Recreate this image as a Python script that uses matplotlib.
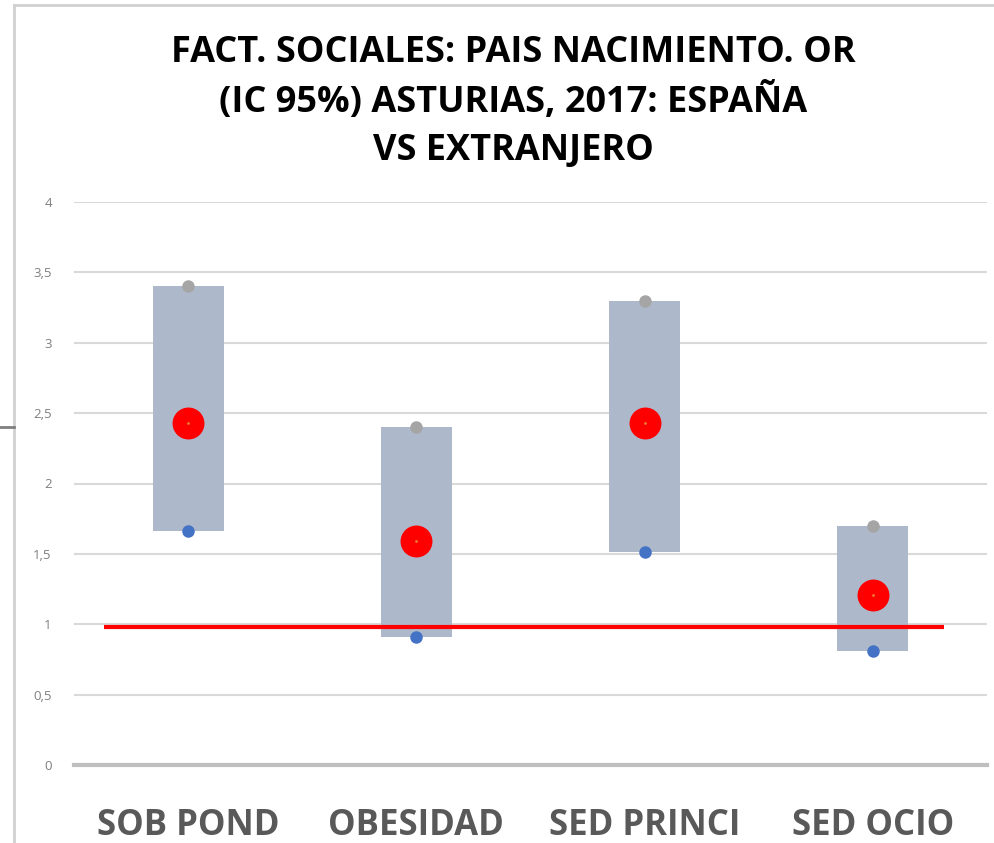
import matplotlib
matplotlib.use("Agg")
import matplotlib.pyplot as plt
from matplotlib.lines import Line2D

categories = ["SOB POND", "OBESIDAD", "SED PRINCI", "SED OCIO"]
or_values = [2.43, 1.59, 2.43, 1.21]
ic_upper = [3.40, 2.40, 3.30, 1.70]
ic_lower = [1.66, 0.91, 1.51, 0.81]
ref_value = 0.98
ref_x = [-0.37, 3.31]
yticks = [0, 0.5, 1, 1.5, 2, 2.5, 3, 3.5, 4]
ytick_labels = ["0", "0,5", "1", "1,5", "2", "2,5", "3", "3,5", "4"]
title_lines = ["FACT. SOCIALES: PAIS NACIMIENTO. OR",
               "(IC 95%) ASTURIAS, 2017: ESPAÑA",
               "VS EXTRANJERO"]

W, H = 995, 843
fig = plt.figure(figsize=(W / 100, H / 100), dpi=100)
ax = fig.add_axes([74 / W, 1 - 765 / H, (987 - 74) / W, (765 - 202) / H])

x = list(range(len(categories)))
heights = [u - l for u, l in zip(ic_upper, ic_lower)]
ax.bar(x, heights, bottom=ic_lower, width=0.31, color="#ADB9CA", zorder=2)
ax.plot(ref_x, [ref_value, ref_value], color="#FF0000", lw=3, zorder=3, solid_capstyle="butt")
ax.plot(x, ic_upper, "o", color="#A5A5A5", ms=9, mec="none", zorder=4, clip_on=False)
ax.plot(x, ic_lower, "o", color="#4472C4", ms=9, mec="none", zorder=4, clip_on=False)
ax.plot(x, or_values, "o", color="#FF0000", ms=23, mec="none", zorder=5)
ax.plot(x, or_values, "o", color="#ED7D31", ms=2, mec="none", zorder=6)

ax.set_xlim(-0.5, 3.5)
ax.set_ylim(0, 4)
ax.set_yticks(yticks)
ax.set_yticklabels(ytick_labels, fontsize=9.5, color="#7F7F7F", family="Open Sans")
ax.tick_params(axis="y", length=0, pad=16)
ax.set_xticks(x)
ax.set_xticklabels(categories, fontsize=25, fontweight="bold", color="#595959",
                   family=["Liberation Sans Narrow", "Open Sans", "DejaVu Sans"])
ax.tick_params(axis="x", length=0, pad=31)
ax.grid(axis="y", color="#D9D9D9", lw=1.5, zorder=0)
ax.set_axisbelow(True)
for s in ["top", "right", "left"]:
    ax.spines[s].set_visible(False)
ax.spines["bottom"].set_color("#BFBFBF")
ax.spines["bottom"].set_linewidth(3)

for i, line in enumerate(title_lines):
    fig.text(513 / W, 1 - (53 + i * 49) / H, line, ha="center", va="center",
             fontsize=26, fontweight="bold", color="#000000", family="Open Sans")

# outer frame pieces
fig.add_artist(Line2D([14 / W, 14 / W], [0, 1 - 5 / H], transform=fig.transFigure, color="#D0D0D0", lw=2))
fig.add_artist(Line2D([14 / W, 1], [1 - 5 / H, 1 - 5 / H], transform=fig.transFigure, color="#D0D0D0", lw=2))
fig.add_artist(Line2D([0, 14 / W], [1 - 427 / H, 1 - 427 / H], transform=fig.transFigure, color="#7F7F7F", lw=2))

fig.savefig("out.png", dpi=100)
